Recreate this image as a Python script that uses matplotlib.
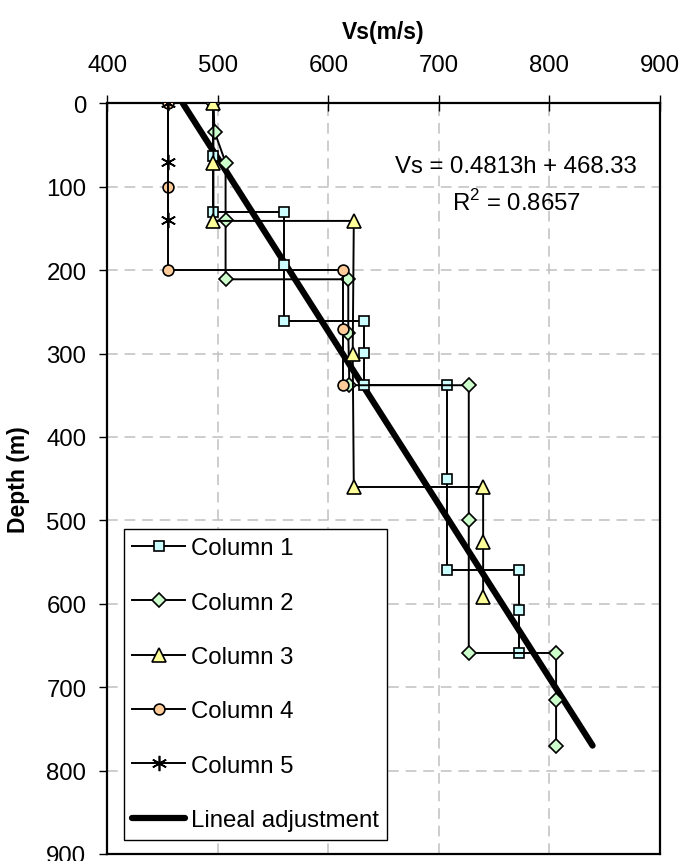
import numpy as np
from matplotlib import pyplot as plt

plt.rcParams['font.family'] = ['Liberation Sans', 'DejaVu Sans']
plt.rcParams['mathtext.fontset'] = 'custom'
plt.rcParams['mathtext.rm'] = 'Liberation Sans'

# Vs (m/s) and depth (m) for each column
col1_vs = [496, 496, 496, 560, 560, 560, 632, 632, 632, 707, 707, 707, 772, 772, 772]
col1_depth = [0, 63, 130, 130, 194, 261, 261, 299, 338, 338, 450, 560, 560, 608, 659]

col2_vs = [496, 497, 507, 507, 507, 618, 618, 619, 727, 727, 727, 806, 806, 806]
col2_depth = [0, 34, 71, 140, 211, 211, 275, 338, 338, 500, 659, 659, 715, 770]

col3_vs = [496, 496, 496, 623, 622, 623, 740, 740, 740]
col3_depth = [0, 72, 141, 141, 300, 460, 460, 526, 592]

col4_vs = [455, 455, 455, 613, 613, 613]
col4_depth = [0, 100, 200, 200, 270, 338]

col5_vs = [455, 455, 455]
col5_depth = [0, 70, 140]

# Lineal adjustment end points (Vs = 0.4813h + 468.33)
fit_vs = [468.3, 839.0]
fit_depth = [0, 770]

fig = plt.figure(figsize=(6.83, 8.62), dpi=100)
ax = fig.add_axes([107.3 / 683, 1 - 855 / 862, 552.7 / 683, 750.7 / 862])

fs = 17.3
line_kw = dict(color='k', linewidth=1.4, zorder=3)
mk_kw = dict(markeredgecolor='k', markeredgewidth=1.2)

ax.plot(col1_vs, col1_depth, marker='s', markersize=7.8, markerfacecolor='#CCFFFF',
        label='Column 1', **line_kw, **mk_kw)
ax.plot(col2_vs, col2_depth, marker='D', markersize=6.8, markerfacecolor='#CCFFCC',
        label='Column 2', **line_kw, **mk_kw)
ax.plot(col3_vs, col3_depth, marker='^', markersize=9.5, markerfacecolor='#FFFF99',
        label='Column 3', **line_kw, **mk_kw)
ax.plot(col4_vs, col4_depth, marker='o', markersize=7.8, markerfacecolor='#FFCC99',
        label='Column 4', **line_kw, **mk_kw)
ax.plot(col5_vs, col5_depth, marker=(6, 2, 0), markersize=11, markerfacecolor='k',
        label='Column 5', **line_kw, **mk_kw)
ax.plot(fit_vs, fit_depth, color='k', linewidth=4.5, solid_capstyle='round',
        zorder=2.5, label='Lineal adjustment')

# axes setup, x axis on top, depth increasing downwards
ax.set_xlim(400, 900)
ax.set_ylim(900, 0)
ax.set_xticks(np.arange(400, 901, 100))
ax.set_yticks(np.arange(0, 901, 100))
ax.xaxis.tick_top()
ax.xaxis.set_label_position('top')
ax.tick_params(axis='x', direction='inout', length=11, width=1, pad=14, labelsize=fs)
ax.tick_params(axis='y', direction='out', length=6, width=1, pad=9, labelsize=fs)
ax.set_xlabel('Vs(m/s)', fontsize=16.5, fontweight='bold', labelpad=12)
ax.set_ylabel('Depth (m)', fontsize=16.5, fontweight='bold', labelpad=12)
for s in ax.spines.values():
    s.set_linewidth(1.6)
    s.set_color('k')

ax.grid(True, color='#C0C0C0', linestyle=(0, (7, 4.5)), linewidth=1.1, zorder=0)
ax.set_axisbelow(True)

# trendline label
ax.text(0.7395, 0.9165, 'Vs = 0.4813h + 468.33', transform=ax.transAxes,
        ha='center', va='center', fontsize=fs)
ax.text(0.7395, 0.8685, 'R$^{2}$ = 0.8657', transform=ax.transAxes,
        ha='center', va='center', fontsize=fs)

leg = ax.legend(loc='lower left', bbox_to_anchor=(0.03, 0.019), borderaxespad=0,
                fontsize=fs, fancybox=False, framealpha=1, edgecolor='k',
                handlelength=2.2, handletextpad=0.25, labelspacing=1.35,
                borderpad=0.35)
leg.get_frame().set_linewidth(1.0)

fig.savefig('out.png', dpi=100)
